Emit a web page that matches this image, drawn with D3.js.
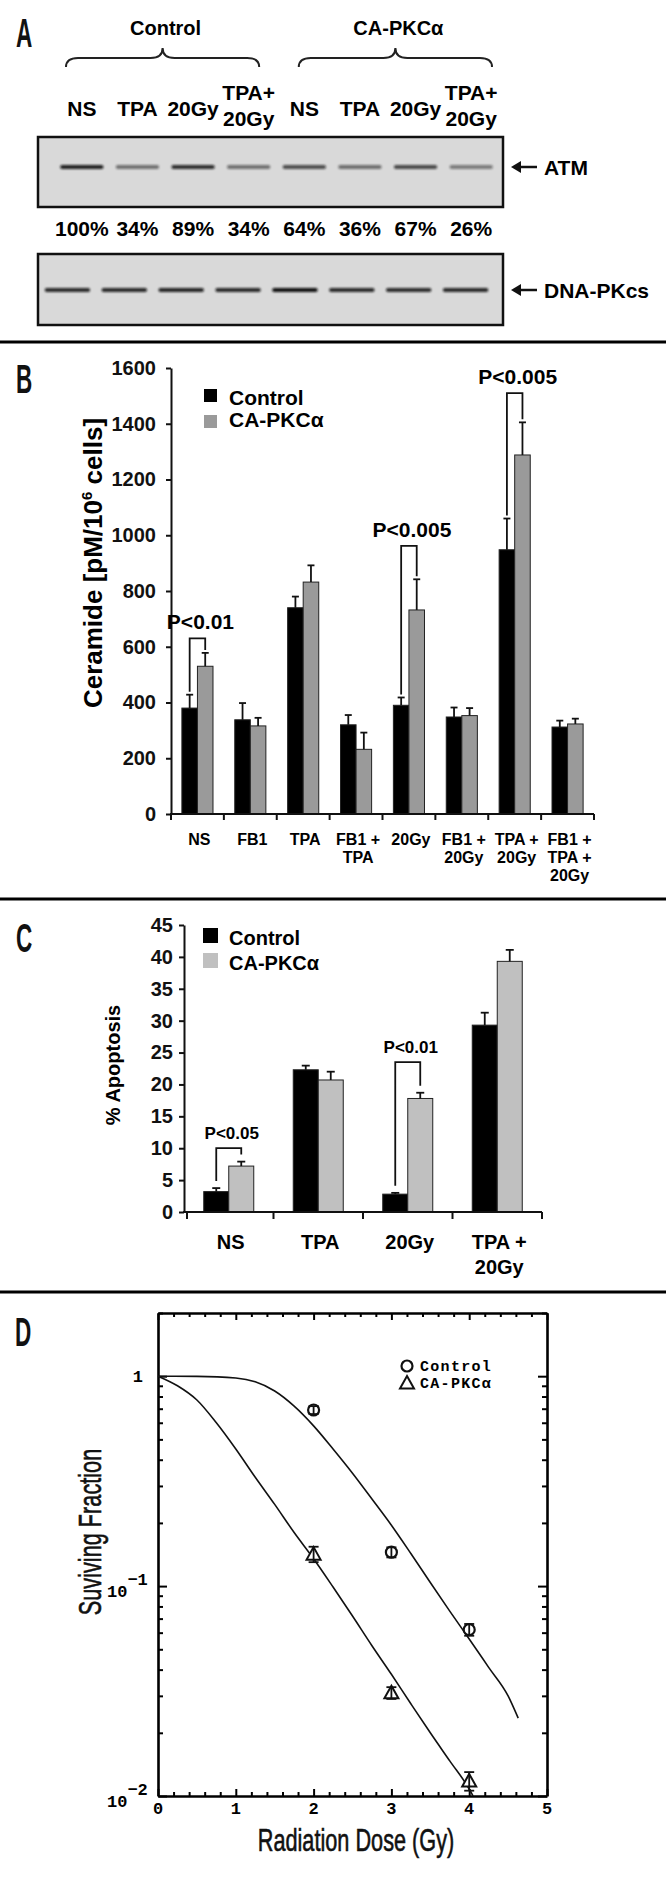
<!DOCTYPE html>
<html><head><meta charset="utf-8">
<script src="https://cdn.jsdelivr.net/npm/d3@7"></script>
<style>body{margin:0;background:#fff}svg{display:block}</style>
</head><body><svg id="c" width="666" height="1898"></svg>
<script>
// ---------- Panel A data ----------
const blotGroups = ["Control", "CA-PKCα"];
const laneLabels = ["NS", "TPA", "20Gy", "TPA+\n20Gy", "NS", "TPA", "20Gy", "TPA+\n20Gy"];
const atmPercent = [100, 34, 89, 34, 64, 36, 67, 26];
const dnapkIntensity = [0.85, 0.86, 0.88, 0.86, 0.98, 0.86, 0.84, 0.86];
const blotProteins = ["ATM", "DNA-PKcs"];

// ---------- Panel B data ----------
const ceramideCats = ["NS", "FB1", "TPA", "FB1 +\nTPA", "20Gy", "FB1 +\n20Gy", "TPA +\n20Gy", "FB1 +\nTPA +\n20Gy"];
const ceramideControl = [380, 338, 740, 320, 390, 348, 948, 312];
const ceramideControlErr = [48, 60, 40, 35, 28, 34, 112, 23];
const ceramideCA = [530, 316, 832, 232, 732, 353, 1288, 323];
const ceramideCAErr = [48, 29, 60, 60, 110, 27, 117, 19];
const ceramideTicks = [0, 200, 400, 600, 800, 1000, 1200, 1400, 1600];
const ceramidePCats = ["NS", "20Gy", "TPA +\n20Gy"];
const ceramidePLabels = ["P<0.01", "P<0.005", "P<0.005"];
const ceramidePTop = [630, 962, 1510];

// ---------- Panel C data ----------
const apoptosisCats = ["NS", "TPA", "20Gy", "TPA +\n20Gy"];
const apoptosisControl = [3.2, 22.3, 2.8, 29.3];
const apoptosisControlErr = [0.55, 0.65, 0.2, 1.95];
const apoptosisCA = [7.2, 20.7, 17.8, 39.3];
const apoptosisCAErr = [0.7, 1.3, 0.9, 1.8];
const apoptosisTicks = [0, 5, 10, 15, 20, 25, 30, 35, 40, 45];
const apoptosisPCats = ["NS", "20Gy"];
const apoptosisPLabels = ["P<0.05", "P<0.01"];
const apoptosisPTop = [10.0, 23.5];

// ---------- Panel D data ----------
const doseTicks = [0, 1, 2, 3, 4, 5];
const controlDose = [2, 3, 4];
const controlSF = [0.69, 0.145, 0.062];
const controlSFErr = [0.03, 0.008, 0.004];
const caDose = [2, 3, 4];
const caSF = [0.142, 0.031, 0.0118];
const caSFErr = [0.012, 0.002, 0.0012];
const controlFitDose = [0, 0.5, 1.0, 1.25, 1.5, 1.75, 2.0, 2.25, 2.5, 2.75, 3.0, 3.25, 3.5, 3.75, 4.0, 4.25, 4.5, 4.63];
const controlFitSF = [1, 0.998, 0.98, 0.94, 0.85, 0.72, 0.58, 0.45, 0.345, 0.26, 0.195, 0.143, 0.104, 0.076, 0.056, 0.041, 0.030, 0.0235];
const caFitDose = [0, 0.25, 0.5, 0.75, 1.0, 1.25, 1.5, 1.75, 2.0, 2.25, 2.5, 2.75, 3.0, 3.25, 3.5, 3.75, 4.0, 4.05];
const caFitSF = [1, 0.9, 0.77, 0.6, 0.45, 0.33, 0.245, 0.18, 0.135, 0.099, 0.072, 0.052, 0.038, 0.0275, 0.020, 0.0147, 0.0108, 0.0100];

// ---------- common ----------
const SANS = "'Liberation Sans', Arial, Helvetica, sans-serif";
const MONO = "'Liberation Mono', 'Courier New', monospace";
const svg = d3.select("#c");
svg.append("rect").attr("width", 666).attr("height", 1898).attr("fill", "#fff");
const defs = svg.append("defs");
defs.append("filter").attr("id", "blur").attr("x", "-20%").attr("y", "-100%").attr("width", "140%").attr("height", "300%")
  .append("feGaussianBlur").attr("stdDeviation", 0.8);

function multiline(g, x, y, text, lineH, size, anchor) {
  const t = g.append("text").attr("x", x).attr("y", y).attr("font-family", SANS)
    .attr("font-weight", "bold").attr("font-size", size).attr("text-anchor", anchor || "middle");
  text.split("\n").forEach((s, i) => t.append("tspan").attr("x", x).attr("dy", i ? lineH : 0).text(s));
  return t;
}
function panelLetter(letter, x, y) {
  svg.append("text").attr("transform", `translate(${x},${y}) scale(0.55,1)`)
    .attr("font-family", SANS).attr("font-weight", "bold").attr("font-size", 41).attr("fill", "#111").text(letter);
}
[342, 899, 1292].forEach(y => svg.append("line").attr("x1", 0).attr("x2", 666)
  .attr("y1", y).attr("y2", y).attr("stroke", "#000").attr("stroke-width", 3));

// ================= Panel A =================
panelLetter("A", 16, 47);
const gA = svg.append("g");
const laneX = d3.scaleBand().domain(d3.range(laneLabels.length)).range([54, 499]);
const laneXDna = d3.scaleBand().domain(d3.range(laneLabels.length)).range([39, 494]);
const groupX = d3.scaleBand().domain(blotGroups).range([66, 492]).paddingInner(0.17);

blotGroups.forEach(gname => {
  const bx1 = groupX(gname), bx2 = bx1 + groupX.bandwidth(), xm = (bx1 + bx2) / 2;
  const yl = 58, yt = 48, ye = 67, r = 12;
  gA.append("path").attr("fill", "none").attr("stroke", "#222").attr("stroke-width", 2)
    .attr("d", `M${bx1},${ye} Q${bx1},${yl} ${bx1 + r},${yl} L${xm - r},${yl} Q${xm},${yl} ${xm},${yt} Q${xm},${yl} ${xm + r},${yl} L${bx2 - r},${yl} Q${bx2},${yl} ${bx2},${ye}`);
  gA.append("text").attr("x", xm + 3).attr("y", 35).attr("text-anchor", "middle")
    .attr("font-family", SANS).attr("font-weight", "bold").attr("font-size", 20).text(gname);
});
laneLabels.forEach((lab, i) => {
  const cx = laneX(i) + laneX.bandwidth() / 2;
  if (lab.includes("\n")) multiline(gA, cx, 100, lab, 26, 21);
  else multiline(gA, cx, 116, lab, 26, 21);
});
const blotBoxes = [{y: 137, h: 70, bandY: 167}, {y: 254, h: 71, bandY: 290}];
blotBoxes.forEach(b => {
  gA.append("rect").attr("x", 38).attr("y", b.y).attr("width", 465).attr("height", b.h)
    .attr("fill", "#d9d9d9").attr("stroke", "#111").attr("stroke-width", 2.5);
});
const atmOpacity = d3.scaleLinear().domain([0, 100]).range([0.3, 0.9]);
atmPercent.forEach((p, i) => {
  const w = laneX.bandwidth() * 0.78, cx = laneX(i) + laneX.bandwidth() / 2;
  gA.append("rect").attr("x", cx - w / 2).attr("y", blotBoxes[0].bandY - 2).attr("width", w).attr("height", 4)
    .attr("rx", 2).attr("fill", "#111").attr("opacity", atmOpacity(p)).attr("filter", "url(#blur)");
  gA.append("text").attr("x", cx).attr("y", 236).attr("text-anchor", "middle")
    .attr("font-family", SANS).attr("font-weight", "bold").attr("font-size", 21).text(p + "%");
});
dnapkIntensity.forEach((v, i) => {
  const w = laneXDna.bandwidth() * 0.8, cx = laneXDna(i) + laneXDna.bandwidth() / 2;
  gA.append("rect").attr("x", cx - w / 2).attr("y", blotBoxes[1].bandY - 2).attr("width", w).attr("height", 4)
    .attr("rx", 2).attr("fill", "#111").attr("opacity", v).attr("filter", "url(#blur)");
});
blotProteins.forEach((pname, i) => {
  const y = blotBoxes[i].bandY;
  gA.append("line").attr("x1", 517).attr("x2", 537).attr("y1", y).attr("y2", y).attr("stroke", "#111").attr("stroke-width", 2.5);
  gA.append("path").attr("d", `M511,${y} L521,${y - 6} L521,${y + 6} Z`).attr("fill", "#111");
  gA.append("text").attr("x", 544).attr("y", y + 7.5).attr("font-family", SANS).attr("font-weight", "bold")
    .attr("font-size", 21).text(pname);
});

// ================= Panel B =================
panelLetter("B", 16, 393);
const gB = svg.append("g");
const bX = d3.scaleBand().domain(ceramideCats).range([171, 594]);
const bInner = d3.scaleBand().domain(["Control", "CA"]).range([0, bX.bandwidth()]).paddingOuter(0.7);
const bY = d3.scaleLinear().domain([0, 1600]).range([814, 368]);
const bColors = {Control: "#000", CA: "#9a9a9a"};

function drawBars(g, cats, X, inner, Y, series, colors, capW) {
  series.forEach(s => {
    cats.forEach((c, i) => {
      const x = X(c) + inner(s.key), w = inner.bandwidth();
      g.append("rect").attr("x", x).attr("y", Y(s.vals[i])).attr("width", w).attr("height", Y(0) - Y(s.vals[i]))
        .attr("fill", colors[s.key]).attr("stroke", "#222").attr("stroke-width", 1);
      const cx = x + w / 2, yt = Y(s.vals[i] + s.errs[i]);
      g.append("line").attr("x1", cx).attr("x2", cx).attr("y1", Y(s.vals[i])).attr("y2", yt).attr("stroke", "#111").attr("stroke-width", 1.8);
      g.append("line").attr("x1", cx - capW / 2).attr("x2", cx + capW / 2).attr("y1", yt).attr("y2", yt).attr("stroke", "#111").attr("stroke-width", 1.8);
    });
  });
}
drawBars(gB, ceramideCats, bX, bInner, bY, [
  {key: "Control", vals: ceramideControl, errs: ceramideControlErr},
  {key: "CA", vals: ceramideCA, errs: ceramideCAErr}], bColors, 7);

const bAxis = gB.append("g").attr("transform", "translate(171,0)")
  .call(d3.axisLeft(bY).tickValues(ceramideTicks).tickFormat(d3.format("d")).tickSize(5).tickSizeOuter(0).tickPadding(10));
bAxis.select(".domain").attr("stroke", "#111").attr("stroke-width", 2);
bAxis.selectAll(".tick line").attr("stroke", "#111").attr("stroke-width", 2);
bAxis.selectAll("text").attr("font-family", SANS).attr("font-weight", "bold").attr("font-size", 20).attr("fill", "#111");
gB.append("line").attr("x1", 170).attr("x2", 594).attr("y1", bY(0)).attr("y2", bY(0)).attr("stroke", "#111").attr("stroke-width", 2);
ceramideCats.concat([null]).forEach(c => {
  const x = c ? bX(c) : bX.range()[1];
  gB.append("line").attr("x1", x).attr("x2", x).attr("y1", bY(0)).attr("y2", bY(0) + 6).attr("stroke", "#111").attr("stroke-width", 2);
});
ceramideCats.forEach(c => multiline(gB, bX(c) + bX.bandwidth() / 2 + 2, 845, c, 18, 16));
gB.append("text").attr("transform", `translate(102,563) rotate(-90)`).attr("text-anchor", "middle")
  .attr("font-family", SANS).attr("font-weight", "bold").attr("font-size", 26)
  .call(t => {
    t.append("tspan").text("Ceramide [pM/10");
    t.append("tspan").attr("font-size", 15).attr("dy", -10).text("6");
    t.append("tspan").attr("dy", 10).text(" cells]");
  });
[["Control", "Control", 389, 405], ["CA", "CA-PKCα", 415, 427]].forEach(([k, lab, ys, yt]) => {
  gB.append("rect").attr("x", 204).attr("y", ys).attr("width", 13).attr("height", 13).attr("fill", bColors[k]);
  gB.append("text").attr("x", 229).attr("y", yt).attr("font-family", SANS).attr("font-weight", "bold").attr("font-size", 21).text(lab);
});

function pBracket(g, X, inner, Y, cats, ctrl, ctrlErr, ca, caErr, pCats, pLabels, pTop, gap, fs) {
  pCats.forEach((c, j) => {
    const i = cats.indexOf(c);
    const xl = X(c) + inner("Control") + inner.bandwidth() / 2;
    const xr = X(c) + inner("CA") + inner.bandwidth() / 2;
    const yt = Y(pTop[j]);
    const yl = Y(ctrl[i] + ctrlErr[i]) - gap, yr = Y(ca[i] + caErr[i]) - gap;
    g.append("path").attr("fill", "none").attr("stroke", "#111").attr("stroke-width", 1.8)
      .attr("d", `M${xl},${yl} L${xl},${yt} L${xr},${yt} L${xr},${yr}`);
    g.append("text").attr("x", (xl + xr) / 2 + 3).attr("y", yt - 9).attr("text-anchor", "middle")
      .attr("font-family", SANS).attr("font-weight", "bold").attr("font-size", fs).text(pLabels[j]);
  });
}
pBracket(gB, bX, bInner, bY, ceramideCats, ceramideControl, ceramideControlErr, ceramideCA, ceramideCAErr,
  ceramidePCats, ceramidePLabels, ceramidePTop, 3, 21);

// ================= Panel C =================
panelLetter("C", 16, 952);
const gC = svg.append("g");
const cX = d3.scaleBand().domain(apoptosisCats).range([184, 542]);
const cInner = d3.scaleBand().domain(["Control", "CA"]).range([0, cX.bandwidth()]).paddingOuter(0.79);
const cY = d3.scaleLinear().domain([0, 45]).range([1212, 925]);
const cColors = {Control: "#000", CA: "#c0c0c0"};
drawBars(gC, apoptosisCats, cX, cInner, cY, [
  {key: "Control", vals: apoptosisControl, errs: apoptosisControlErr},
  {key: "CA", vals: apoptosisCA, errs: apoptosisCAErr}], cColors, 8);
const cAxis = gC.append("g").attr("transform", "translate(184,0)")
  .call(d3.axisLeft(cY).tickValues(apoptosisTicks).tickSize(5).tickSizeOuter(0).tickPadding(6));
cAxis.select(".domain").attr("stroke", "#111").attr("stroke-width", 2);
cAxis.selectAll(".tick line").attr("stroke", "#111").attr("stroke-width", 2);
cAxis.selectAll("text").attr("font-family", SANS).attr("font-weight", "bold").attr("font-size", 20).attr("fill", "#111");
gC.append("line").attr("x1", 183).attr("x2", 542).attr("y1", cY(0)).attr("y2", cY(0)).attr("stroke", "#111").attr("stroke-width", 2);
apoptosisCats.concat([null]).forEach(c => {
  const x = c ? cX(c) : cX.range()[1];
  const xx = x + (c === apoptosisCats[0] ? 3 : 0);
  gC.append("line").attr("x1", xx).attr("x2", xx).attr("y1", cY(0)).attr("y2", cY(0) + 7).attr("stroke", "#111").attr("stroke-width", 2);
});
apoptosisCats.forEach(c => multiline(gC, cX(c) + cX.bandwidth() / 2 + 2, 1249, c, 25, 20));
gC.append("text").attr("transform", `translate(120,1065) rotate(-90)`).attr("text-anchor", "middle")
  .attr("font-family", SANS).attr("font-weight", "bold").attr("font-size", 20).text("% Apoptosis");
[["Control", "Control", 928, 945], ["CA", "CA-PKCα", 953, 970]].forEach(([k, lab, ys, yt]) => {
  gC.append("rect").attr("x", 203).attr("y", ys).attr("width", 15).attr("height", 15).attr("fill", cColors[k]);
  gC.append("text").attr("x", 229).attr("y", yt).attr("font-family", SANS).attr("font-weight", "bold").attr("font-size", 20).text(lab);
});
pBracket(gC, cX, cInner, cY, apoptosisCats, apoptosisControl, apoptosisControlErr, apoptosisCA, apoptosisCAErr,
  apoptosisPCats, apoptosisPLabels, apoptosisPTop, 7, 17);

// ================= Panel D =================
panelLetter("D", 15, 1346);
const gD = svg.append("g");
const dX = d3.scaleLinear().domain([0, 5]).range([158, 547]);
const dY = d3.scaleLog().domain([0.01, 2]).range([1796, 1313]);
const dLeft = dX(0), dRight = dX(5), dTop = dY(2), dBot = dY(0.01);
const isMajorX = t => Math.abs(t - Math.round(t)) < 1e-6;
const isMajorY = t => Math.abs(Math.log10(t) - Math.round(Math.log10(t))) < 1e-6;
const FRAME = "#000";
function styleFrame(g) {
  g.select(".domain").attr("stroke", FRAME).attr("stroke-width", 2.6);
  g.selectAll(".tick line").attr("stroke", FRAME).attr("stroke-width", 2);
  g.selectAll(".tick text").remove();
}
const xMinor = dX.ticks(25), yMinor = dY.ticks();
gD.append("g").attr("transform", `translate(0,${dBot})`)
  .call(d3.axisBottom(dX).tickValues(xMinor).tickSize(-4).tickSizeOuter(0)).call(styleFrame)
  .selectAll(".tick line").filter(isMajorX).attr("y2", -7);
gD.append("g").attr("transform", `translate(0,${dTop})`)
  .call(d3.axisTop(dX).tickValues(xMinor).tickSize(-4).tickSizeOuter(0)).call(styleFrame)
  .selectAll(".tick line").filter(isMajorX).attr("y2", 7);
gD.append("g").attr("transform", `translate(${dLeft},0)`)
  .call(d3.axisLeft(dY).tickValues(yMinor).tickSize(-5).tickSizeOuter(0)).call(styleFrame)
  .selectAll(".tick line").filter(isMajorY).attr("x2", 9);
gD.append("g").attr("transform", `translate(${dRight},0)`)
  .call(d3.axisRight(dY).tickValues(yMinor).tickSize(-5).tickSizeOuter(0)).call(styleFrame)
  .selectAll(".tick line").filter(isMajorY).attr("x2", -9);

doseTicks.forEach(t => gD.append("text").attr("x", dX(t)).attr("y", 1814).attr("text-anchor", "middle")
  .attr("font-family", MONO).attr("font-weight", "bold").attr("font-size", 17).text(t));
gD.append("text").attr("x", 143).attr("y", dY(1) + 6).attr("text-anchor", "end")
  .attr("font-family", MONO).attr("font-weight", "bold").attr("font-size", 17).text("1");
[[0.1, "−1"], [0.01, "−2"]].forEach(([v, e]) => {
  const t = gD.append("text").attr("x", 107).attr("y", dY(v) + 11).attr("font-family", MONO).attr("font-weight", "bold").attr("font-size", 17);
  t.append("tspan").text("10");
  t.append("tspan").attr("dy", -12).text(e);
});
const line = d3.line().x(d => dX(d[0])).y(d => dY(d[1])).curve(d3.curveMonotoneX);
[[controlFitDose, controlFitSF], [caFitDose, caFitSF]].forEach(([xs, ys]) =>
  gD.append("path").attr("d", line(xs.map((x, i) => [x, ys[i]]))).attr("fill", "none").attr("stroke", "#111").attr("stroke-width", 1.6));
function errBar(x, v, e) {
  const cx = dX(x);
  gD.append("line").attr("x1", cx).attr("x2", cx).attr("y1", dY(v - e)).attr("y2", dY(v + e)).attr("stroke", "#111").attr("stroke-width", 1.8);
  [v - e, v + e].forEach(yv => gD.append("line").attr("x1", cx - 5).attr("x2", cx + 5).attr("y1", dY(yv)).attr("y2", dY(yv)).attr("stroke", "#111").attr("stroke-width", 1.8));
}
function circleAt(cx, cy) {
  gD.append("circle").attr("cx", cx).attr("cy", cy).attr("r", 5.5).attr("fill", "#fff").attr("stroke", "#111").attr("stroke-width", 2.2);
}
function triAt(cx, cy) {
  gD.append("path").attr("d", `M${cx},${cy - 7} L${cx + 7},${cy + 5.5} L${cx - 7},${cy + 5.5} Z`)
    .attr("fill", "#fff").attr("stroke", "#111").attr("stroke-width", 2);
}
controlDose.forEach((d, i) => { circleAt(dX(d), dY(controlSF[i])); errBar(d, controlSF[i], controlSFErr[i]); });
caDose.forEach((d, i) => { triAt(dX(d), dY(caSF[i])); errBar(d, caSF[i], caSFErr[i]); });
circleAt(407, 1366);
triAt(407, 1383);
gD.append("text").attr("x", 420).attr("y", 1371).attr("font-family", MONO).attr("font-weight", "bold")
  .attr("font-size", 15).attr("letter-spacing", 1.3).text("Control");
gD.append("text").attr("x", 420).attr("y", 1388).attr("font-family", MONO).attr("font-weight", "bold")
  .attr("font-size", 15).attr("letter-spacing", 1.3).text("CA-PKCα");
gD.append("text").attr("transform", `translate(356,1851) scale(0.7,1)`).attr("text-anchor", "middle")
  .attr("font-family", SANS).attr("font-size", 31).attr("fill", "#111").attr("stroke", "#111").attr("stroke-width", 0.6)
  .text("Radiation Dose (Gy)");
gD.append("text").attr("transform", `translate(101,1532) rotate(-90) scale(0.7,1)`).attr("text-anchor", "middle")
  .attr("font-family", SANS).attr("font-size", 31).attr("fill", "#111").attr("stroke", "#111").attr("stroke-width", 0.6)
  .text("Suviving Fraction");
</script></body></html>
